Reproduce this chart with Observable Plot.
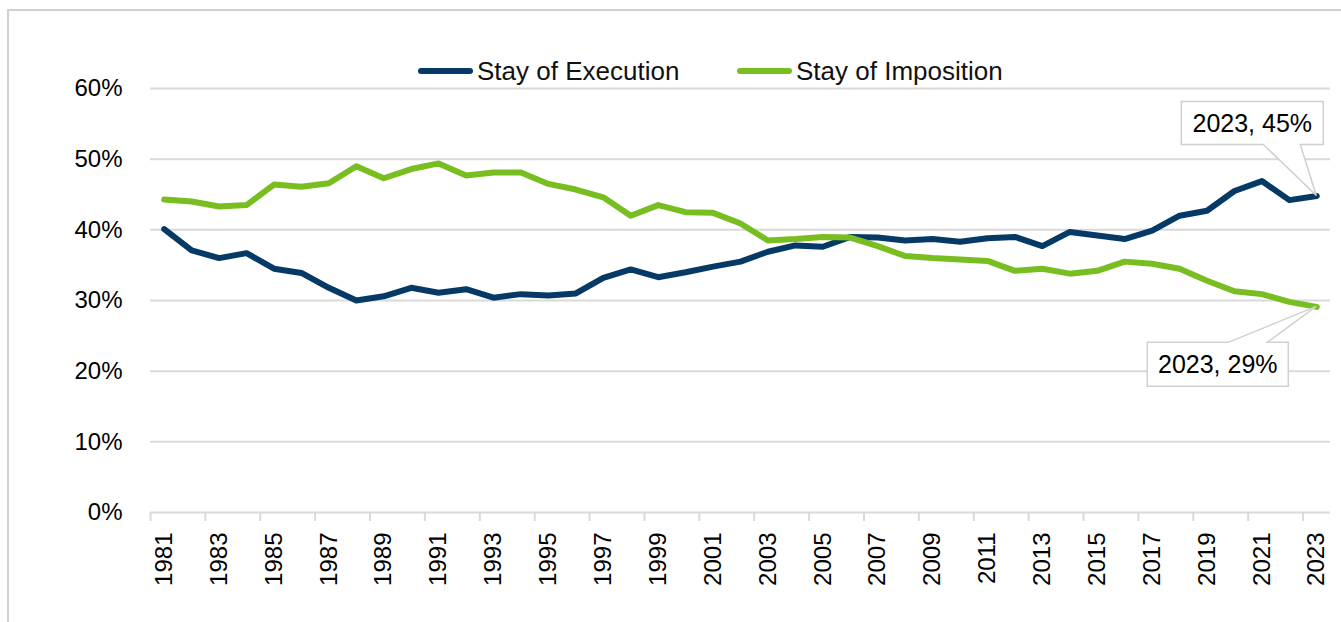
<!DOCTYPE html>
<html>
<head>
<meta charset="utf-8">
<script src="https://cdn.jsdelivr.net/npm/d3@7"></script>
<script src="https://cdn.jsdelivr.net/npm/@observablehq/plot@0.6"></script>
<style>
  html, body { margin: 0; padding: 0; background: #fff; overflow: hidden; }
  body { width: 1341px; height: 622px; position: relative; font-family: "Liberation Sans", Arial, sans-serif; }
  #frame { position: absolute; left: 7px; top: 9px; width: 1400px; height: 700px; border: 2px solid #d0d0d0; box-sizing: border-box; pointer-events: none; z-index: 5; }
  #legend { height: 84px; position: relative; }
  .item { position: absolute; top: 58px; height: 26px; display: flex; align-items: center; font-size: 26px; line-height: 26px; color: #111; white-space: nowrap; }
  .sw { width: 55px; height: 6px; border-radius: 3px; margin-right: 4px; }
  #chart svg { display: block; overflow: visible; }
</style>
</head>
<body>
<div id="frame"></div>
<div id="legend"></div>
<div id="chart"></div>
<script>
// ---- data ----
const years = [1981,1982,1983,1984,1985,1986,1987,1988,1989,1990,
               1991,1992,1993,1994,1995,1996,1997,1998,1999,2000,
               2001,2002,2003,2004,2005,2006,2007,2008,2009,2010,
               2011,2012,2013,2014,2015,2016,2017,2018,2019,2020,
               2021,2022,2023];
const stayOfExecution = [40.1,37.1,36.0,36.7,34.5,33.9,31.8,30.0,30.6,31.8,
                         31.1,31.6,30.4,30.9,30.7,31.0,33.2,34.4,33.3,34.0,
                         34.8,35.5,36.9,37.8,37.6,39.0,38.9,38.5,38.7,38.3,
                         38.8,39.0,37.7,39.7,39.2,38.7,39.9,42.0,42.7,45.5,
                         46.9,44.2,44.8];
const stayOfImposition = [44.3,44.0,43.3,43.5,46.4,46.1,46.6,49.0,47.3,48.6,
                          49.4,47.7,48.1,48.1,46.5,45.7,44.6,42.0,43.5,42.5,
                          42.4,40.9,38.5,38.7,39.0,38.9,37.7,36.3,36.0,35.8,
                          35.6,34.2,34.5,33.8,34.2,35.5,35.2,34.5,32.8,31.3,
                          30.9,29.8,29.1];
const seriesNames = ["Stay of Execution", "Stay of Imposition"];
const seriesColors = ["#063a66", "#78be21"];
const yTicks = [0, 0.1, 0.2, 0.3, 0.4, 0.5, 0.6];
const xTickLabels = [1981,1983,1985,1987,1989,1991,1993,1995,1997,1999,2001,2003,
                     2005,2007,2009,2011,2013,2015,2017,2019,2021,2023];

// ---- build table ----
const seriesValues = [stayOfExecution, stayOfImposition];
const rows = [];
seriesNames.forEach((name, s) => {
  years.forEach((yr, i) => rows.push({series: name, year: yr, value: seriesValues[s][i] / 100}));
});
// category boundaries every two years (Excel-style tick marks between categories)
const boundaries = xTickLabels.map(y => y - 0.5);
const lastIdx = years.length - 1;
const endPoints = seriesNames.map((name, s) => ({
  series: name, year: years[lastIdx], value: seriesValues[s][lastIdx] / 100
}));

// ---- legend ----
const legend = document.getElementById("legend");
const legendLeft = [418, 737];
seriesNames.forEach((name, i) => {
  const it = document.createElement("div");
  it.className = "item";
  it.style.left = legendLeft[i] + "px";
  const sw = document.createElement("span");
  sw.className = "sw";
  sw.style.background = seriesColors[i];
  const tx = document.createElement("span");
  tx.textContent = name;
  it.appendChild(sw); it.appendChild(tx);
  legend.appendChild(it);
});

// ---- callout mark ----
function callouts(index, scales, values, dims, context) {
  const g = d3.create("svg:g");
  endPoints.forEach((p, k) => {
    const px = scales.x(p.year), py = scales.y(p.value);
    let L, R, T, B, d;
    if (k === 0) {
      L = px - 135; R = px + 7; T = py - 94; B = py - 51;
      const b1 = px - 53, b2 = px - 16;
      d = `M${L},${T}H${R}V${B}H${b2}L${px},${py}L${b1},${B}H${L}Z`;
    } else {
      L = px - 169; R = px - 28; T = py + 36; B = py + 80;
      const b1 = px - 88, b2 = px - 49;
      d = `M${L},${T}H${b1}L${px},${py}L${b2},${T}H${R}V${B}H${L}Z`;
    }
    g.append("path").attr("d", d).attr("fill", "#fff").attr("stroke", "#d0d0d0").attr("stroke-width", 1.5);
    g.append("text")
      .attr("x", (L + R) / 2).attr("y", (T + B) / 2)
      .attr("text-anchor", "middle").attr("dy", "0.36em")
      .attr("font-size", 25).attr("fill", "#000")
      .text(`${p.year}, ${Math.round(p.value * 100)}%`);
  });
  return g.node();
}

// ---- plot ----
const chart = Plot.plot({
  width: 1341,
  height: 538,
  marginTop: 4,
  marginBottom: 110,
  marginLeft: 150,
  marginRight: 11,
  style: {fontFamily: '"Liberation Sans", Arial, sans-serif', fontSize: "24px", background: "transparent", overflow: "visible", color: "#000"},
  x: {type: "linear", domain: [years[0] - 0.5, years[lastIdx] + 0.5], axis: null, label: null},
  y: {domain: [0, 0.6], axis: null, label: null},
  color: {domain: seriesNames, range: seriesColors},
  marks: [
    Plot.ruleY(yTicks.filter(v => v > 0), {stroke: "#d9d9d9", strokeWidth: 2}),
    Plot.ruleY([0], {stroke: "#d9d9d9", strokeWidth: 2}),
    Plot.ruleX(boundaries, {y1: 0, y2: 0, insetBottom: -9, stroke: "#d9d9d9", strokeWidth: 2}),
    Plot.axisY(yTicks, {tickSize: 0, tickPadding: 28, tickFormat: d3.format(".0%"), fontSize: 24, fill: "#000", label: null}),
    Plot.axisX(xTickLabels, {tickSize: 0, tickRotate: -90, tickPadding: 20, tickFormat: d => String(d), fontSize: 24, fill: "#000", label: null}),
    Plot.line(rows, {x: "year", y: "value", stroke: "series", z: "series", strokeWidth: 6, strokeLinejoin: "round", strokeLinecap: "round"}),
    callouts
  ]
});
document.getElementById("chart").appendChild(chart);
</script>
</body>
</html>
